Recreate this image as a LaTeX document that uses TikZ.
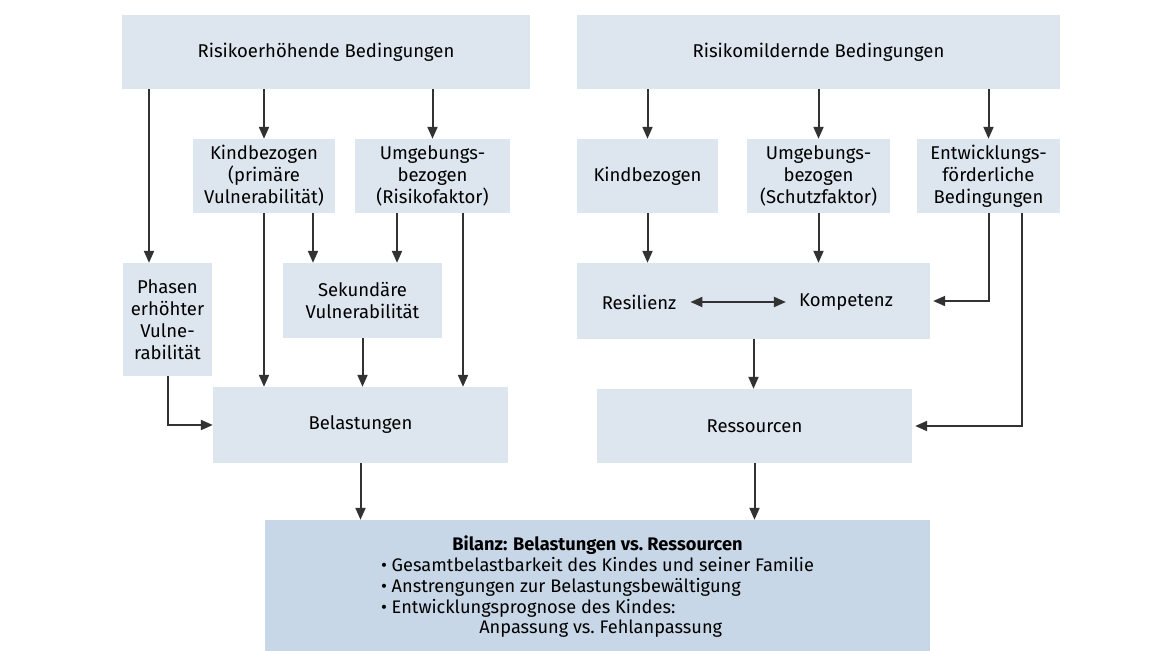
\documentclass[tikz,border=0pt]{standalone}
\usepackage{fontspec}
\setmainfont{Fira Sans}
\usetikzlibrary{arrows.meta}
\definecolor{boxblue}{RGB}{221,230,239}
\definecolor{bilanzblue}{RGB}{200,215,231}
\definecolor{arrowgray}{RGB}{50,50,50}
\begin{document}
\begin{tikzpicture}[x=1pt,y=-1pt,
  box/.style={fill=boxblue,inner sep=0pt,align=center,font=\fontsize{18.5}{22}\selectfont},
  arr/.style={draw=arrowgray,line width=2pt,-{Triangle[length=12pt,width=10pt]}}]
\useasboundingbox[fill=white] (0,0) rectangle (1158,650);
% top row
\node[box,minimum width=408,minimum height=74] (risk) at (326,52) {Risikoerh\"ohende Bedingungen};
\node[box,minimum width=483,minimum height=74] (mild) at (818.5,52) {Risikomildernde Bedingungen};
% second row
\node[box,minimum width=142,minimum height=74] (kindR) at (264,176) {Kindbezogen\\(prim\"are\\Vulnerabilit\"at)};
\node[box,minimum width=155,minimum height=74] (umgR) at (432.5,176) {Umgebungs-\\bezogen\\(Risikofaktor)};
\node[box,minimum width=141,minimum height=74] (kindM) at (647.5,176) {Kindbezogen};
\node[box,minimum width=143,minimum height=74] (umgM) at (818.5,176) {Umgebungs-\\bezogen\\(Schutzfaktor)};
\node[box,minimum width=143,minimum height=74] (entw) at (988.5,176) {Entwicklungs-\\f\"orderliche\\Bedingungen};
% third row
\node[box,minimum width=89,minimum height=113] (phasen) at (167.5,319.5) {Phasen\\erh\"ohter\\Vulne-\\rabilit\"at};
\node[box,minimum width=159,minimum height=75] (sek) at (362.5,300.5) {Sekund\"are\\Vulnerabilit\"at};
\node[box,minimum width=353,minimum height=76] (reskomp) at (753.5,301) {};
\node[box,fill=none,inner xsep=14pt] (res) at (639,302) {Resilienz};
\node[box,fill=none,inner xsep=13pt] (komp) at (846,302) {Kompetenz};
% fourth row
\node[box,minimum width=295,minimum height=76] (bel) at (360.5,425) {Belastungen};
\node[box,minimum width=315,minimum height=74] (ress) at (754.5,426) {Ressourcen};
% bottom
\node[box,fill=bilanzblue,minimum width=665,minimum height=136,font=\fontsize{18.2}{20.8}\selectfont] (bilanz) at (597.5,588)
  {\begin{tabular}{@{}l@{}}
   \multicolumn{1}{@{}c@{}}{\textbf{Bilanz: Belastungen vs.\ Ressourcen}}\\
   \textbullet\ Gesamtbelastbarkeit des Kindes und seiner Familie\\
   \textbullet\ Anstrengungen zur Belastungsbew\"altigung\\
   \textbullet\ Entwicklungsprognose des Kindes:\\
   \hspace{5.4em}Anpassung vs.\ Fehlanpassung
   \end{tabular}};
% left side
\draw[arr] ([xshift=-18.5pt]phasen.north |- risk.south) -- ([xshift=-18.5pt]phasen.north);
\draw[arr] (risk.south -| kindR.north) -- (kindR.north);
\draw[arr] (risk.south -| umgR.north) -- (umgR.north);
\draw[arr] (kindR.south) -- (kindR.south |- bel.north);
\draw[arr] ([xshift=49pt]kindR.south) -- ([xshift=49pt]kindR.south |- sek.north);
\draw[arr] ([xshift=-35.5pt]umgR.south) -- ([xshift=-35.5pt]umgR.south |- sek.north);
\draw[arr] ([xshift=30.5pt]umgR.south) -- ([xshift=30.5pt]umgR.south |- bel.north);
\draw[arr] (sek.south) -- (sek.south |- bel.north);
\draw[arr] (phasen.south) |- (bel.west);
% right side
\draw[arr] (mild.south -| kindM.north) -- (kindM.north);
\draw[arr] (mild.south -| umgM.north) -- (umgM.north);
\draw[arr] (mild.south -| entw.north) -- (entw.north);
\draw[arr] (kindM.south) -- (kindM.south |- reskomp.north);
\draw[arr] (umgM.south) -- (umgM.south |- reskomp.north);
\draw[arr] (entw.south) |- ([xshift=3pt]reskomp.east);
\draw[arr] ([xshift=33.5pt]entw.south) |- ([xshift=3pt]ress.east);
\draw[arr,{Triangle[length=12pt,width=10pt]}-{Triangle[length=12pt,width=10pt]}] (res) -- (komp);
\draw[arr] (reskomp.south) -- (reskomp.south |- ress.north);
% to the balance
\draw[arr] (bel.south) -- (bel.south |- bilanz.north);
\draw[arr] (ress.south) -- (ress.south |- bilanz.north);
\end{tikzpicture}
\end{document}
